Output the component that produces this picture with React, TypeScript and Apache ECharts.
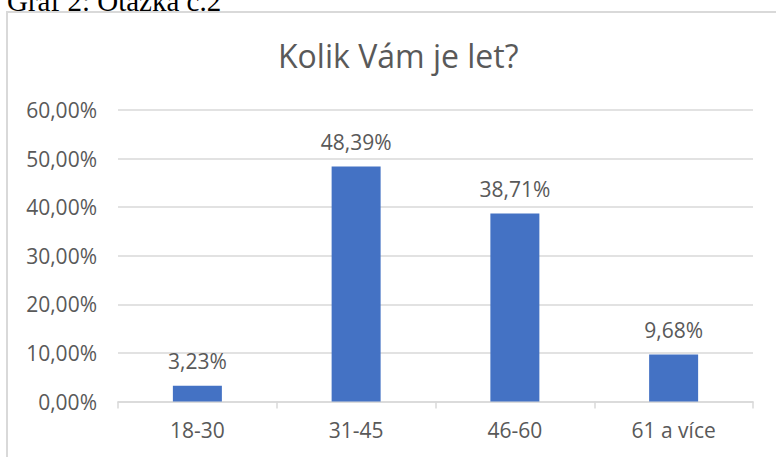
import React, { useEffect, useRef } from "react";
import * as echarts from "echarts";

const categories = ["18-30", "31-45", "46-60", "61 a více"];
const values = [3.23, 48.39, 38.71, 9.68];
const yTicks = [0, 10, 20, 30, 40, 50, 60];
const chartTitle = "Kolik Vám je let?";
const caption = "Graf 2: Otázka č.2";

const fmt = (v: number) => v.toFixed(2).replace(".", ",") + "%";

export default function App() {
  const ref = useRef<HTMLDivElement>(null);
  useEffect(() => {
    if (!ref.current) return;
    const chart = echarts.init(ref.current, undefined, { renderer: "svg" });
    const labelFont = "'Open Sans', sans-serif";
    chart.setOption({
      animation: false,
      backgroundColor: "#ffffff",
      title: {
        text: chartTitle,
        left: 273,
        top: 34,
        textStyle: { color: "#595959", fontSize: 32, fontWeight: "normal", fontFamily: labelFont },
      },
      graphic: [
        {
          type: "rect",
          shape: { x: 7, y: 12, width: 790, height: 470 },
          style: { fill: "none", stroke: "#d9d9d9", lineWidth: 2 },
        },
        {
          type: "text",
          left: 7,
          top: -14,
          style: {
            text: caption,
            font: "29px 'Liberation Serif', 'Times New Roman', serif",
            fill: "#000000",
          },
        },
      ],
      grid: { left: 118, right: 23, top: 110, bottom: 55.5, containLabel: false },
      xAxis: {
        type: "category",
        data: categories,
        axisLine: { lineStyle: { color: "#d9d9d9", width: 1.5 } },
        axisTick: { show: true, length: 7, lineStyle: { color: "#d9d9d9", width: 1.5 } },
        axisLabel: { color: "#595959", fontSize: 21, fontFamily: labelFont, margin: 18 },
      },
      yAxis: {
        type: "value",
        min: yTicks[0],
        max: yTicks[yTicks.length - 1],
        interval: 10,
        axisLine: { show: false },
        axisTick: { show: false },
        splitLine: { lineStyle: { color: "#d9d9d9", width: 1.5 } },
        axisLabel: {
          color: "#595959",
          fontSize: 21,
          fontFamily: labelFont,
          margin: 21,
          formatter: (v: number) => fmt(v),
        },
      },
      series: [
        {
          type: "bar",
          data: values,
          barWidth: 49,
          itemStyle: { color: "#4472C4" },
          label: {
            show: true,
            position: "top",
            distance: 14,
            color: "#595959",
            fontSize: 21,
            fontFamily: labelFont,
            formatter: (p: any) => fmt(p.value),
          },
        },
      ],
    });
    return () => chart.dispose();
  }, []);
  return (
    <div
      ref={ref}
      style={{ position: "fixed", left: 0, top: 0, width: 776, height: 457 }}
    />
  );
}
